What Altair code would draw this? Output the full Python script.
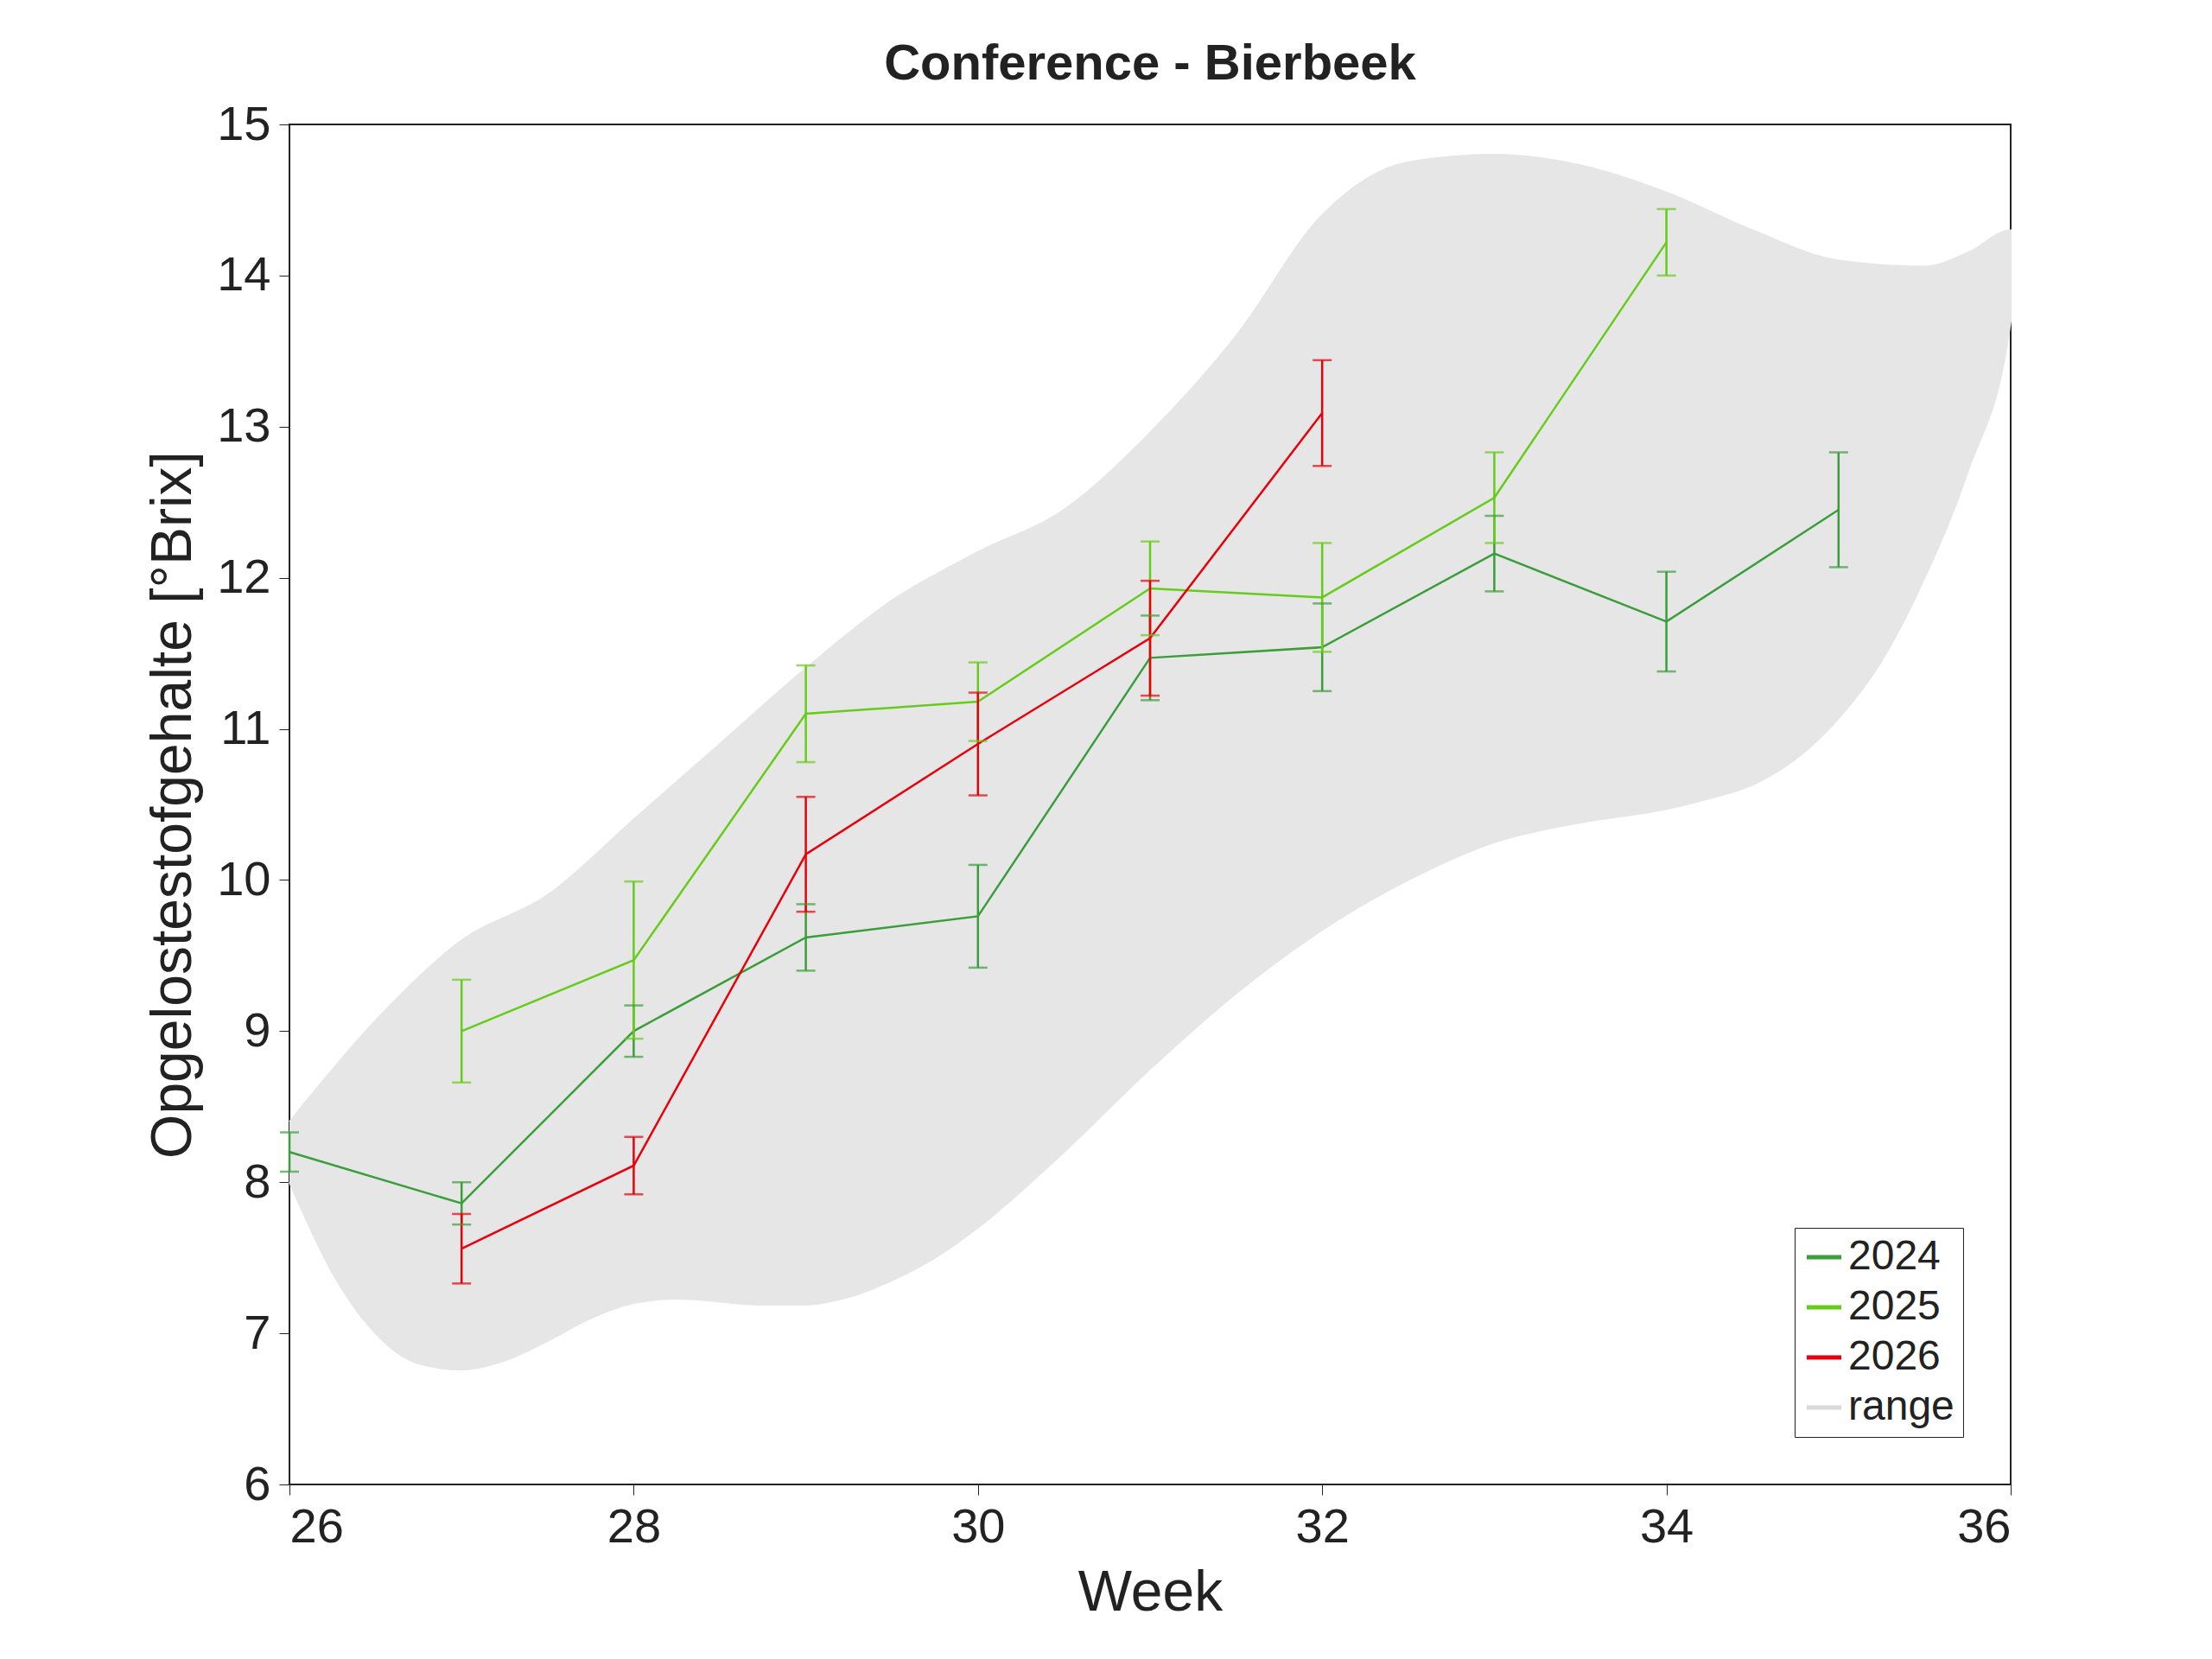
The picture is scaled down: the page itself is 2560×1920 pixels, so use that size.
import altair as alt
import pandas as pd

weeks_2024 = [26, 27, 28, 29, 30, 31, 32, 33, 34, 35]
mean_2024 = [8.2, 7.86, 9.0, 9.62, 9.76, 11.47, 11.54, 12.16, 11.71, 12.45]
err_2024 = [0.13, 0.14, 0.17, 0.22, 0.34, 0.28, 0.29, 0.25, 0.33, 0.38]

weeks_2025 = [27, 28, 29, 30, 31, 32, 33, 34]
mean_2025 = [9.0, 9.47, 11.1, 11.18, 11.93, 11.87, 12.53, 14.22]
err_2025 = [0.34, 0.52, 0.32, 0.26, 0.31, 0.36, 0.3, 0.22]

weeks_2026 = [27, 28, 29, 30, 31, 32]
mean_2026 = [7.56, 8.11, 10.17, 10.9, 11.6, 13.09]
err_2026 = [0.23, 0.19, 0.38, 0.34, 0.38, 0.35]

band_upper_w = [26, 26.5, 27, 27.5, 28, 28.5, 29, 29.5, 30, 30.5, 31, 31.5, 32, 32.5,
                33, 33.5, 34, 34.5, 35, 35.5, 35.75, 36]
band_upper = [8.4, 9.07, 9.6, 9.9, 10.4, 10.9, 11.4, 11.85, 12.17, 12.45, 12.96, 13.6,
              14.4, 14.75, 14.8, 14.73, 14.55, 14.3, 14.1, 14.06, 14.15, 14.3]
band_lower_w = [26, 26.25, 26.5, 26.75, 27, 27.25, 27.5, 27.75, 28, 28.25, 28.75, 29,
                29.25, 29.5, 29.75, 30, 30.5, 31, 31.5, 32, 32.5, 33, 33.5, 34, 34.25,
                34.5, 34.75, 35, 35.25, 35.5, 35.75, 36]
band_lower = [8.0, 7.4, 7.0, 6.8, 6.76, 6.82, 6.95, 7.1, 7.2, 7.23, 7.19, 7.19, 7.24,
              7.35, 7.5, 7.7, 8.2, 8.75, 9.25, 9.67, 10.0, 10.25, 10.38, 10.47, 10.54,
              10.63, 10.8, 11.07, 11.45, 12.0, 12.7, 13.7]

FONT = "Liberation Sans"
series_names = ["2024", "2025", "2026", "range"]
series_colors = ["#3a9e3a", "#66cc1a", "#e8000b", "#d9d9d9"]

rows = []
for name, ws, ms, es in [("2024", weeks_2024, mean_2024, err_2024),
                         ("2025", weeks_2025, mean_2025, err_2025),
                         ("2026", weeks_2026, mean_2026, err_2026)]:
    for w, m, e in zip(ws, ms, es):
        rows.append({"series": name, "week": w, "brix": m, "lo": m - e, "hi": m + e})
df = pd.DataFrame(rows)

# polygon for the range band: upper left->right, lower right->left
poly = [{"week": w, "brix": v, "order": i, "series": "range"}
        for i, (w, v) in enumerate(zip(band_upper_w, band_upper))]
n = len(poly)
for j, (w, v) in enumerate(zip(reversed(band_lower_w), reversed(band_lower))):
    poly.append({"week": w, "brix": v, "order": n + j, "series": "range"})
poly_df = pd.DataFrame(poly)

xs = alt.Scale(domain=[26, 36], nice=False, zero=False)
ys = alt.Scale(domain=[6, 15], nice=False, zero=False)
color = alt.Color(
    "series:N",
    scale=alt.Scale(domain=series_names, range=series_colors),
    legend=alt.Legend(
        title=None, orient="bottom-right", symbolType="stroke",
        symbolStrokeWidth=5, symbolSize=1600, labelFont=FONT, labelFontSize=48,
        labelColor="#222", strokeColor="#222", fillColor="white", padding=10,
        rowPadding=10, offset=55,
    ),
)
X = alt.X("week:Q", scale=xs, title="Week",
          axis=alt.Axis(values=list(range(26, 37, 2)), format="d", grid=False))
Y = alt.Y("brix:Q", scale=ys, title="Opgelostestofgehalte [°Brix]",
          axis=alt.Axis(values=list(range(6, 16)), format="d", grid=False))

band = alt.Chart(poly_df).mark_line(
    filled=True, fill="#e6e6e6", stroke="#e6e6e6", interpolate="monotone"
).encode(x=X, y=Y, order="order:Q", color=color)

lines = alt.Chart(df).mark_line(strokeWidth=2.5).encode(x=X, y=Y, color=color)
bars = alt.Chart(df).mark_rule(strokeWidth=2.5).encode(
    x="week:Q", y="lo:Q", y2="hi:Q", color=color)
tick_lo = alt.Chart(df).mark_tick(size=22, thickness=2.5, orient="horizontal").encode(
    x="week:Q", y="lo:Q", color=color)
tick_hi = alt.Chart(df).mark_tick(size=22, thickness=2.5, orient="horizontal").encode(
    x="week:Q", y="hi:Q", color=color)

chart = alt.layer(band, lines, bars, tick_lo, tick_hi).properties(
    width=1992, height=1574,
    background="white",
    autosize=alt.AutoSizeParams(type="none"),
    padding={"left": 327, "top": 136, "right": 225, "bottom": 190},
    title=alt.TitleParams("Conference - Bierbeek", font=FONT, fontSize=58,
                          fontWeight="bold", color="#222", offset=12),
).configure_view(stroke="#222", strokeWidth=2).configure_axis(
    labelFont=FONT, labelFontSize=56, labelColor="#222", titleFont=FONT,
    titleFontSize=66, titleFontWeight="normal", titleColor="#222",
    domainColor="#222", tickColor="#222", tickSize=12, labelPadding=10,
    titlePadding=16,
)

chart.save("out.html", embed_options={"renderer": "svg", "actions": False})
